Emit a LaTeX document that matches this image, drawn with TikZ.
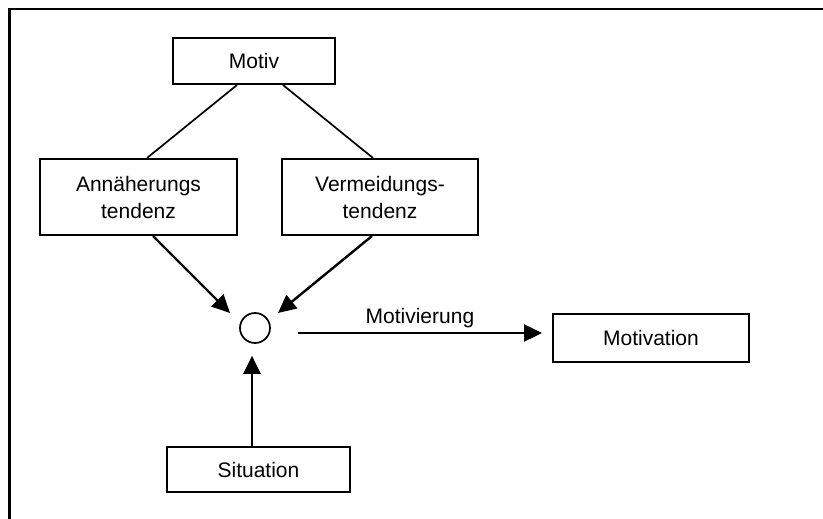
\documentclass[tikz,border=0pt]{standalone}
\usepackage{fontspec}
\setmainfont{Liberation Sans}
\usetikzlibrary{arrows.meta,calc}
\begin{document}
\begin{tikzpicture}[x=1pt,y=-1pt,
  every node/.style={font=\fontsize{21}{27}\selectfont},
  box/.style={draw,line width=2pt,rectangle,inner sep=0pt,align=center},
  link/.style={line width=1.7pt},
  arr/.style={line width=2.4pt,-{Triangle[length=18pt,width=17pt]}}]
  \useasboundingbox (0,0) rectangle (823,519);
  % open frame: only top and left sides
  \draw[line width=2.5pt] (9.5,519) -- (9.5,9) -- (823,9);

  \node[box,minimum width=162pt,minimum height=46pt] (motiv) at (254,61) {Motiv};
  \node[box,minimum width=197pt,minimum height=76pt] (annae) at (138.5,197) {Annäherungs\\tendenz};
  \node[box,minimum width=196pt,minimum height=76pt] (verm) at (380,197) {Vermeidungs-\\tendenz};
  \node[draw,circle,line width=1.7pt,minimum size=30pt,inner sep=0pt] (knot) at (255,328) {};
  \node[box,minimum width=196pt,minimum height=48pt] (motivation) at (651,338) {Motivation};
  \node[box,minimum width=183pt,minimum height=45pt] (sit) at (258.5,469.5) {Situation};

  % motive splits into the two tendencies
  \draw[link] ($(motiv.south)+(-17,0)$) -- ($(annae.north)+(8.5,0)$);
  \draw[link] ($(motiv.south)+(29,0)$) -- ($(verm.north)+(-7,0)$);

  % tendencies and situation meet in the knot
  \draw[arr] ($(annae.south)+(14.5,0)$) -- ($(knot)+(-25,-15)$);
  \draw[arr] ($(verm.south)+(-8,0)$) -- ($(knot)+(23,-15)$);
  \draw[arr] ($(sit.north)+(-6.5,0)$) -- ($(knot.south)+(-3,12)$);

  % outcome
  \draw[arr] ($(knot.east)+(27,5)$) -- node[above=1pt] {Motivierung} ($(motivation.west)+(-10,-5)$);
\end{tikzpicture}
\end{document}
